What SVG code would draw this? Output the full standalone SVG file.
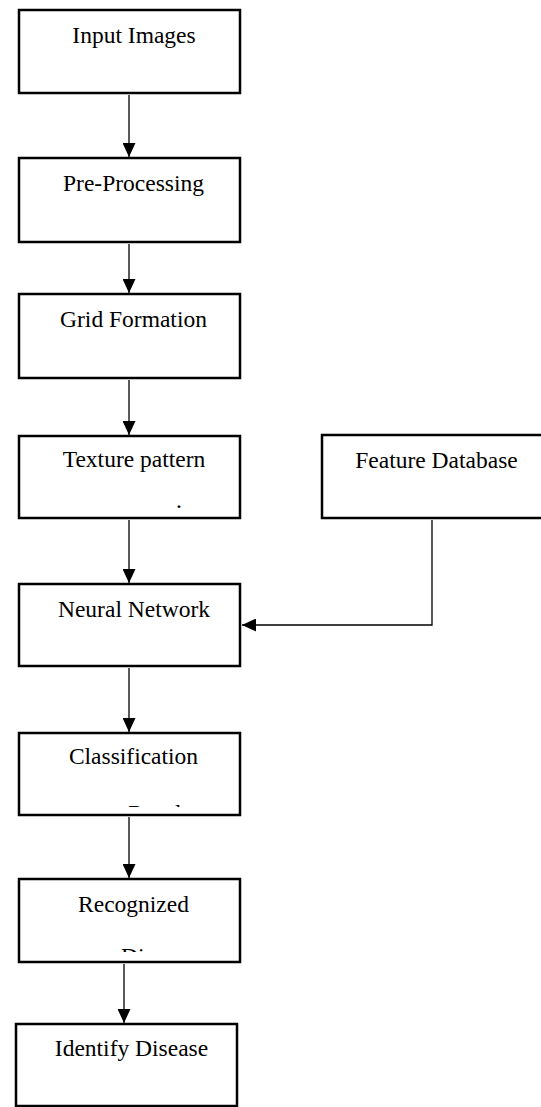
<svg xmlns="http://www.w3.org/2000/svg" width="541" height="1107" viewBox="0 0 541 1107">
<style>
.box{fill:#fff;stroke:#000;stroke-width:2.5}
.lbl{font-family:"Liberation Serif","Times New Roman",serif;font-size:23.5px;fill:#000;text-anchor:middle}
.frag{font-family:"Liberation Serif","Times New Roman",serif;font-size:23.5px;fill:#000}
.con{fill:none;stroke:#000;stroke-width:1.3}
</style>
<defs>
<marker id="ah" markerUnits="userSpaceOnUse" markerWidth="14" markerHeight="13" refX="14" refY="6.5" orient="auto">
<path d="M0,0 L14,6.5 L0,13 z" fill="#000"/>
</marker>
<clipPath id="c6"><rect x="20" y="734" width="219" height="73"/></clipPath>
<clipPath id="c7"><rect x="20" y="880" width="219" height="72"/></clipPath>
</defs>
<rect width="541" height="1107" fill="#fff"/>
<g id="connectors">
<path class="con" d="M129 95 V157" marker-end="url(#ah)"/>
<path class="con" d="M129 244 V293" marker-end="url(#ah)"/>
<path class="con" d="M129 380 V435" marker-end="url(#ah)"/>
<path class="con" d="M129 520 V583" marker-end="url(#ah)"/>
<path class="con" d="M129 668 V732" marker-end="url(#ah)"/>
<path class="con" d="M129 817 V878" marker-end="url(#ah)"/>
<path class="con" d="M124 964 V1023" marker-end="url(#ah)"/>
<path class="con" d="M432 520 V625 H242" marker-end="url(#ah)"/>
</g>
<g id="input-images">
<rect class="box" x="19" y="10" width="221" height="83"/>
<text class="lbl" x="134" y="43">Input Images</text>
</g>
<g id="pre-processing">
<rect class="box" x="19" y="158" width="221" height="84"/>
<text class="lbl" x="133.5" y="191">Pre-Processing</text>
</g>
<g id="grid-formation">
<rect class="box" x="19" y="294" width="221" height="84"/>
<text class="lbl" x="133.5" y="327">Grid Formation</text>
</g>
<g id="texture-pattern">
<rect class="box" x="19" y="436" width="221" height="82"/>
<text class="lbl" x="134" y="467">Texture pattern</text>
<text class="frag" x="176" y="508">.</text>
</g>
<g id="feature-database">
<rect class="box" x="322" y="435" width="230" height="83"/>
<text class="lbl" x="436.5" y="468">Feature Database</text>
</g>
<g id="neural-network">
<rect class="box" x="19" y="584" width="221" height="82"/>
<text class="lbl" x="134" y="617">Neural Network</text>
</g>
<g id="classification">
<rect class="box" x="19" y="733" width="221" height="82"/>
<text class="lbl" x="133.5" y="764">Classification</text>
<text class="frag" x="128" y="821" clip-path="url(#c6)">Result</text>
</g>
<g id="recognized">
<rect class="box" x="19" y="879" width="221" height="83"/>
<text class="lbl" x="133.5" y="912">Recognized</text>
<text class="frag" x="121" y="964" clip-path="url(#c7)">Disease</text>
</g>
<g id="identify-disease">
<rect class="box" x="16" y="1024" width="221" height="82"/>
<text class="lbl" x="131.5" y="1056">Identify Disease</text>
</g>
</svg>
